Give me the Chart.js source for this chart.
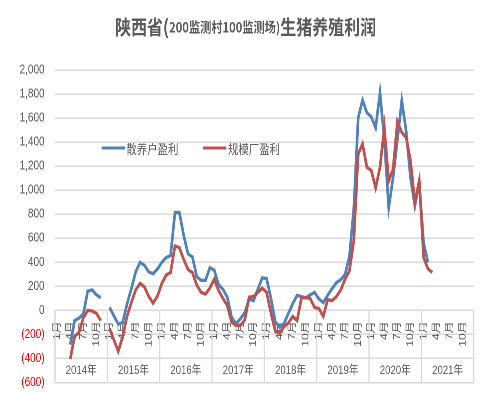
<!DOCTYPE html>
<html>
<head>
<meta charset="utf-8">
<script src="https://cdn.jsdelivr.net/npm/chart.js@4/dist/chart.umd.min.js"></script>
<style>
  body { margin: 0; background: #fff; overflow: hidden; }
  #box { width: 492px; height: 393px; overflow: hidden; }
  /* the original picture is squeezed horizontally, so draw wider and squeeze */
  #chart { transform: scaleX(0.8); transform-origin: 0 0; }
</style>
</head>
<body>
<div id="box"><canvas id="chart" width="615" height="403"></canvas></div>
<script>
const years = ['2014年', '2015年', '2016年', '2017年', '2018年', '2019年', '2020年', '2021年'];
const months = ['1月', '2月', '3月', '4月', '5月', '6月', '7月', '8月', '9月', '10月', '11月', '12月'];

// 散养户盈利, one row per year
const sanyang = [
    null, null, null, -285, -85, -65, -30, 160, 170, 130, 105, null,
    25, -45, -115, -100, 50, 180, 320, 400, 375, 320, 305, 345,
    400, 440, 455, 815, 815, 625, 470, 445, 280, 250, 250, 355,
    335, 215, 175, 110, -60, -110, -70, -20, 95, 80, 175, 270,
    265, 100, -95, -140, -110, -25, 55, 125, 115, 105, 130, 150,
    95, 65, 125, 180, 230, 255, 300, 450, 850, 1600, 1750, 1645,
    1610, 1520, 1810, 1420, 855, 1105, 1420, 1745, 1490, 1100, 870, 1060,
    560, 400, null, null, null, null, null, null, null, null, null, null
];

// 规模厂盈利
const guimo = [
    null, null, null, -405, -215, -185, -60, 0, -5, -25, -85, null,
    -150, -245, -340, -220, -50, 65, 170, 225, 195, 115, 60, 120,
    225, 295, 315, 536, 522, 425, 340, 315, 210, 150, 135, 185,
    260, 165, 100, 40, -100, -125, -125, -80, 110, 115, 150, 185,
    150, -20, -175, -190, -135, -105, -50, -85, 105, 105, 100, 25,
    15, -50, 90, 80, 115, 170, 260, 330, 580, 1300, 1385, 1190,
    1165, 1020, 1190, 1520, 1077, 1175, 1570, 1480, 1437, 1245, 900, 1080,
    440, 345, 315, null, null, null, null, null, null, null, null, null
];

const yMin = -600;
const yMax = 2000;
const yStep = 200;

const labels = [];
years.forEach(() => months.forEach(m => labels.push(m)));

const textColor = '#595959';
const gridColor = '#d9d9d9';

// Title with a smaller middle part
const titlePlugin = {
    id: 'mixedTitle',
    afterDraw(chart) {
        const ctx = chart.ctx;
        const parts = [
            { text: '陕西省(', font: 'bold 20px "Noto Sans CJK SC"' },
            { text: '200监测村100监测场)', font: 'bold 14px "Noto Sans CJK SC"' },
            { text: '生猪养殖利润', font: 'bold 20px "Noto Sans CJK SC"' }
        ];
        ctx.save();
        let total = 0;
        parts.forEach(p => {
            ctx.font = p.font;
            p.w = ctx.measureText(p.text).width;
            total += p.w;
        });
        let x = 307 - total / 2;
        ctx.fillStyle = textColor;
        ctx.textBaseline = 'middle';
        ctx.textAlign = 'left';
        parts.forEach(p => {
            ctx.font = p.font;
            ctx.fillText(p.text, x, 27);
            x += p.w;
        });
        ctx.restore();
    }
};

// Legend inside the plot area
const legendPlugin = {
    id: 'innerLegend',
    afterDraw(chart) {
        const ctx = chart.ctx;
        const starts = [127, 254];
        ctx.save();
        ctx.font = '13px "Noto Sans CJK SC"';
        ctx.textBaseline = 'middle';
        chart.data.datasets.forEach((ds, i) => {
            const x = starts[i];
            ctx.strokeStyle = ds.borderColor;
            ctx.lineWidth = 3;
            ctx.beginPath();
            ctx.moveTo(x, 148);
            ctx.lineTo(x + 29, 148);
            ctx.stroke();
            ctx.fillStyle = textColor;
            ctx.fillText(ds.label, x + 31, 149);
        });
        ctx.restore();
    }
};

// Year row of the two-level category axis
const yearPlugin = {
    id: 'yearAxis',
    beforeDatasetsDraw(chart) {
        const ctx = chart.ctx;
        const xs = chart.scales.x;
        const ys = chart.scales.y;
        const step = xs.getPixelForValue(1) - xs.getPixelForValue(0);
        const top = ys.getPixelForValue(0);
        const bottom = ys.getPixelForValue(yMin);
        ctx.save();
        ctx.strokeStyle = gridColor;
        ctx.lineWidth = 1.5;
        for (let k = 0; k <= years.length; k++) {
            const px = xs.getPixelForValue(k * 12) - step / 2;
            ctx.beginPath();
            ctx.moveTo(px, top);
            ctx.lineTo(px, bottom);
            ctx.stroke();
        }
        ctx.fillStyle = textColor;
        ctx.font = '12px "Liberation Sans", "Noto Sans CJK SC"';
        ctx.textAlign = 'center';
        ctx.textBaseline = 'middle';
        years.forEach((yr, k) => {
            const px = xs.getPixelForValue(k * 12) - step / 2 + step * 6;
            ctx.fillText(yr, px, ys.getPixelForValue(-500));
        });
        ctx.restore();
    }
};

new Chart(document.getElementById('chart'), {
    type: 'line',
    data: {
        labels: labels,
        datasets: [{
            label: '散养户盈利',
            data: sanyang,
            borderColor: '#4f81bd',
            borderWidth: 3.3,
            pointRadius: 0,
            tension: 0,
            order: 1
        }, {
            label: '规模厂盈利',
            data: guimo,
            borderColor: '#c0504d',
            borderWidth: 3.3,
            pointRadius: 0,
            tension: 0,
            order: 0
        }]
    },
    options: {
        responsive: false,
        animation: false,
        devicePixelRatio: 2,
        layout: {
            padding: { left: 0, right: 19.4, top: 70, bottom: 1.6 }
        },
        plugins: {
            legend: { display: false },
            title: { display: false },
            tooltip: { enabled: false }
        },
        scales: {
            x: {
                type: 'category',
                position: { y: 0 },
                offset: true,
                grid: { display: false, drawTicks: false },
                border: { display: false },
                ticks: {
                    autoSkip: false,
                    maxRotation: 90,
                    minRotation: 90,
                    padding: 11,
                    color: textColor,
                    font: { family: '"Liberation Sans", "Noto Sans CJK SC"', size: 12 },
                    callback: function (value, index) {
                        return index % 3 === 0 ? this.getLabelForValue(value) : '';
                    }
                }
            },
            y: {
                min: yMin,
                max: yMax,
                afterFit: function (scale) {
                    scale.width = 68.75;
                },
                grid: { color: gridColor, lineWidth: 1.5, drawTicks: false },
                border: { display: false },
                ticks: {
                    stepSize: yStep,
                    padding: 13,
                    font: { family: '"Liberation Sans"', size: 12.5 },
                    color: ctx => (ctx.tick && ctx.tick.value < 0) ? '#ff0000' : textColor,
                    callback: v => v < 0 ? '(' + Math.abs(v) + ')' : v.toLocaleString('en-US')
                }
            }
        }
    },
    plugins: [yearPlugin, titlePlugin, legendPlugin]
});
</script>
</body>
</html>
